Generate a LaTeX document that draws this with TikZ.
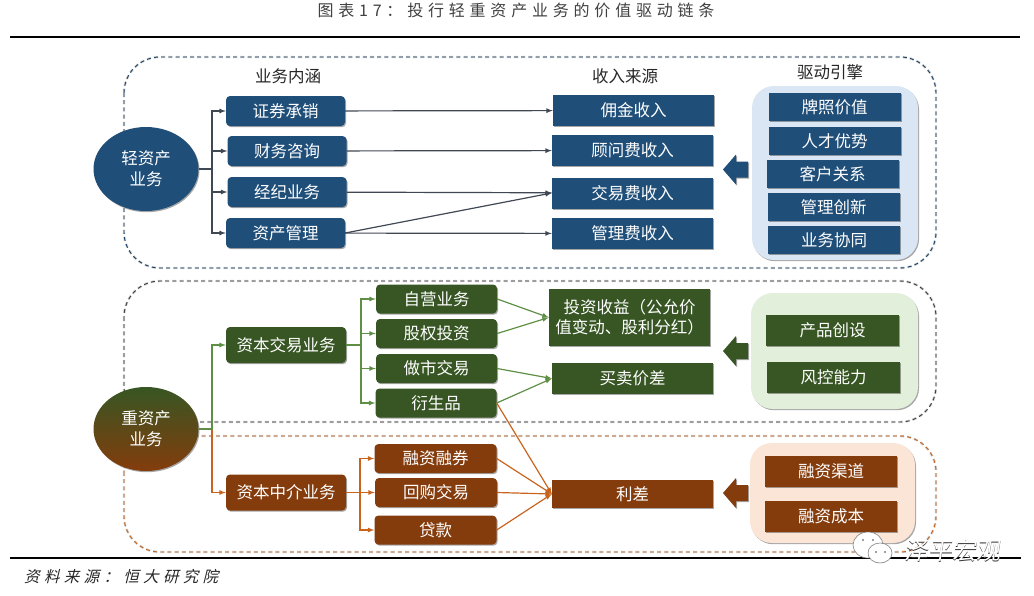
\documentclass[tikz,border=0pt]{standalone}
\usepackage{fontspec}
\setmainfont{Noto Sans CJK SC}
\newfontfamily\titlefont[LetterSpace=30]{Noto Sans CJK SC}
\newfontfamily\sourcefont[FakeSlant=0.25,LetterSpace=28]{Noto Sans CJK SC}
\newfontfamily\markfont[FakeSlant=0.15]{Noto Sans CJK SC}
\usetikzlibrary{shapes,arrows,positioning,calc,shadows}
\definecolor{lightblue}{HTML}{1F4E79}
\definecolor{heavygreen}{HTML}{375623}
\definecolor{heavybrown}{HTML}{843C0C}
\definecolor{panelblue}{HTML}{DAE6F3}
\definecolor{panelgreen}{HTML}{E2EFDA}
\definecolor{panelbrown}{HTML}{FBE5D6}
\definecolor{linkgray}{HTML}{404854}
\definecolor{linkgreen}{HTML}{5F8F45}
\definecolor{linkbrown}{HTML}{C8641E}
\tikzset{
  softshadow/.style={drop shadow={shadow xshift=1pt,shadow yshift=-1.2pt,opacity=0.35,fill=black}},
  tile/.style={text=white,font=\fontsize{16.5}{20}\selectfont,inner sep=0pt,align=center,softshadow},
  roundtile/.style={tile,rounded corners=4pt},
  heading/.style={text=black!85,font=\fontsize{16.5}{20}\selectfont,inner sep=0pt},
  panel/.style={rounded corners=22pt,draw=none,softshadow},
  band/.style={rounded corners=36pt,line width=0.9pt,dash pattern=on 4pt off 3.2pt,
    preaction={draw=black!18,line width=2.4pt,dash pattern=on 4pt off 3.2pt}},
  link/.style={-latex,line width=1.2pt},
  circlenode/.style={ellipse,minimum width=105pt,minimum height=84pt,inner sep=0pt,text=white,align=center,
    font=\fontsize{16.5}{21}\selectfont,softshadow}
}
\begin{document}
\begin{tikzpicture}[x=1pt,y=-1pt]
\useasboundingbox (0,0) rectangle (1034,595);
\node[inner sep=0pt,text=black!75,font=\titlefont\fontsize{16}{20}\selectfont] (title) at (516,10) {图表17：投行轻重资产业务的价值驱动链条};
\coordinate (topleft) at (10,37);
\coordinate (topright) at (1020,37);
\coordinate (botleft) at (10,558);
\coordinate (botright) at (1021,558);
\draw[line width=2.8pt] (topleft) -- (topright);

% three bands
\draw[band,draw=lightblue!85!black] (124,57) rectangle (936,268);
\draw[band,draw=black!75] (124,281) rectangle (936,422);
\draw[band,draw=linkbrown] (124,436) rectangle (936,552);
\draw[line width=2.8pt] (botleft) -- (botright);

% panels
\fill[panel,fill=panelblue] (752,86) rectangle (918,260);
\fill[panel,fill=panelgreen] (751,293) rectangle (918,409);
\fill[panel,fill=panelbrown] (750,443) rectangle (915,543);

% light assets
\node[circlenode,fill=lightblue] (lightcircle) at (146,169) {轻资产\\业务};
\coordinate (lightbus) at (212,169);
\node[heading] (head1) at (288,76) {业务内涵};
\node[heading] (head2) at (625,76.5) {收入来源};
\node[heading] (head3) at (830,72) {驱动引擎};
\foreach \i/\x/\y/\t in {1/285.5/111/证券承销, 2/287/151/财务咨询, 3/287/192/经纪业务, 4/285.5/233/资产管理} {
    \node[roundtile,fill=lightblue,minimum width=119pt,minimum height=30pt] (b\i) at (\x,\y) {\t};
    \draw[link,linkgray] (lightcircle.east) -- (lightbus) |- (b\i.west);
}
\foreach \i/\x/\y/\t in {1/633.5/110.5/佣金收入, 2/632.5/150.5/顾问费收入, 3/632.5/193/交易费收入, 4/632.5/233.5/管理费收入} {
    \node[tile,fill=lightblue,minimum width=161pt,minimum height=31pt] (r\i) at (\x,\y) {\t};
}
\foreach \i/\x/\y/\t in {1/834.5/107/牌照价值, 2/834.5/141/人才优势, 3/832.5/174/客户关系, 4/833.5/207/管理创新, 5/834/240/业务协同} {
    \node[tile,fill=lightblue,minimum width=132pt,minimum height=28pt] (d\i) at (\x,\y) {\t};
}
\draw[link,linkgray] (b1) -- (r1);
\draw[link,linkgray] (b2) -- (r2);
\draw[link,linkgray] (b3) -- (r3);
\draw[link,linkgray] (b4.east) -- (r3.west);
\draw[link,linkgray] (b4) -- (r4);

% heavy assets
\node[circlenode,top color=heavygreen,middle color=heavygreen,bottom color=heavybrown] (heavycircle) at (146,429) {重资产\\业务};
\coordinate (heavybus) at (212,429);
\node[roundtile,fill=heavygreen,minimum width=120pt,minimum height=36pt] (g0) at (286,345) {资本交易业务};
\node[roundtile,fill=heavybrown,minimum width=120pt,minimum height=36pt] (o0) at (286,492.5) {资本中介业务};
\coordinate (greenbus) at (361,345);
\coordinate (brownbus) at (360,492.5);
\draw[link,linkbrown] (heavycircle.east) -- (heavybus) |- (o0.west);
\draw[link,linkgreen] (heavycircle.east) -- (heavybus) |- (g0.west);
\foreach \i/\x/\y/\t in {1/436.5/299/自营业务, 2/436.5/333.5/股权投资, 3/436.5/368.5/做市交易, 4/436/403/衍生品} {
    \node[roundtile,fill=heavygreen,minimum width=121pt,minimum height=29pt] (g\i) at (\x,\y) {\t};
    \draw[link,linkgreen] (g0.east) -- (greenbus) |- (g\i.west);
}
\foreach \i/\x/\y/\t in {1/435.5/458.5/融资融券, 2/436/492.5/回购交易, 3/435.5/530/贷款} {
    \node[roundtile,fill=heavybrown,minimum width=122pt,minimum height=29pt] (o\i) at (\x,\y) {\t};
    \draw[link,linkbrown] (o0.east) -- (brownbus) |- (o\i.west);
}
\node[tile,fill=heavygreen,minimum width=161pt,minimum height=57pt] (rg1) at (629.5,317.5) {投资收益（公允价\\值变动、股利分红）};
\node[tile,fill=heavygreen,minimum width=161pt,minimum height=31pt] (rg2) at (632.5,378.5) {买卖价差};
\node[tile,fill=heavybrown,minimum width=161pt,minimum height=28pt] (ro1) at (632.5,494) {利差};
\foreach \i/\x/\y/\t in {1/832.5/330.5/产品创设, 2/833.5/377.5/风控能力} {
    \node[tile,fill=heavygreen,minimum width=133pt,minimum height=31pt] (dg\i) at (\x,\y) {\t};
}
\foreach \i/\x/\y/\t in {1/831/471.5/融资渠道, 2/831/516/融资成本} {
    \node[tile,fill=heavybrown,minimum width=132pt,minimum height=31pt] (do\i) at (\x,\y) {\t};
}
\draw[link,linkgreen] (g1.east) -- (rg1.west);
\draw[link,linkgreen] (g2.east) -- (rg1.west);
\draw[link,linkgreen] (g3.east) -- (rg2.west);
\draw[link,linkgreen] (g4.east) -- (rg2.west);
\draw[link,linkbrown] (g4.east) -- (ro1.west);
\draw[link,linkbrown] (o1.east) -- (ro1.west);
\draw[link,linkbrown] (o2.east) -- (ro1.west);
\draw[link,linkbrown] (o3.east) -- (ro1.west);

% block arrows
\foreach \c/\y in {lightblue/169.5, heavygreen/351, heavybrown/493} {
    \fill[\c,softshadow] (723,\y) -- (736,\y-15) -- (736,\y-8) -- (748,\y-8) -- (748,\y+8) -- (736,\y+8) -- (736,\y+15) -- cycle;
}

% source line and mark
\node[inner sep=0pt,anchor=west,text=black!85,font=\sourcefont\fontsize{15.5}{19}\selectfont] (source) at (24,577) {资料来源：恒大研究院};
\draw[fill=white,draw=black!50,line width=0.6pt] (868,545) ellipse (15 and 13);
\draw[fill=white,draw=black!50,line width=0.6pt] (880,553) ellipse (12 and 10);
\foreach \x/\y in {863/540, 873/540, 876/552, 885/552} {
    \fill[black!50] (\x,\y) circle (1.1);
}
\node[inner sep=0pt,text=black!80,font=\markfont\fontsize{24}{28}\selectfont] (markback) at (952.8,550.8) {泽平宏观};
\node[inner sep=0pt,text=white,font=\markfont\fontsize{24}{28}\selectfont] (mark) at (952,550) {泽平宏观};
\end{tikzpicture}
\end{document}
